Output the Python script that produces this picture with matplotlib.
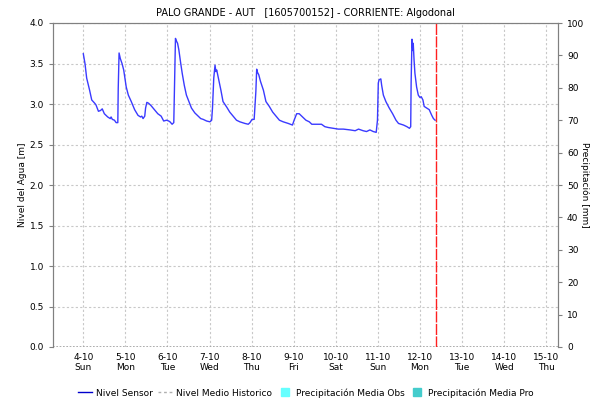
import matplotlib
matplotlib.use("Agg")
import matplotlib.pyplot as plt
from matplotlib.lines import Line2D

# Nivel Sensor: tiempo en dias (dia del mes de octubre), nivel en metros
dias = [4.00, 4.04, 4.08, 4.15, 4.20, 4.27, 4.30, 4.36, 4.41, 4.45, 4.50, 4.58,
        4.64, 4.66, 4.69, 4.74, 4.78, 4.82, 4.83, 4.85, 4.88, 4.92, 4.96, 5.02,
        5.07, 5.14, 5.22, 5.30, 5.36, 5.39, 5.42, 5.46, 5.48, 5.51, 5.55, 5.61,
        5.69, 5.77, 5.85, 5.91, 5.98, 6.03, 6.06, 6.11, 6.15, 6.17, 6.19, 6.22,
        6.24, 6.27, 6.31, 6.35, 6.40, 6.45, 6.51, 6.57, 6.65, 6.73, 6.79, 6.85,
        6.93, 7.01, 7.05, 7.07, 7.10, 7.13, 7.15, 7.17, 7.21, 7.27, 7.32, 7.41,
        7.48, 7.56, 7.64, 7.72, 7.84, 7.92, 7.96, 8.01, 8.06, 8.10, 8.12, 8.14,
        8.17, 8.21, 8.28, 8.34, 8.42, 8.50, 8.58, 8.66, 8.75, 8.87, 8.97, 9.01,
        9.07, 9.13, 9.21, 9.29, 9.37, 9.43, 9.55, 9.66, 9.74, 9.82, 9.94, 10.06,
        10.18, 10.34, 10.46, 10.54, 10.65, 10.73, 10.81, 10.89, 10.96, 10.99, 11.01, 11.03,
        11.07, 11.09, 11.13, 11.19, 11.27, 11.35, 11.43, 11.49, 11.61, 11.69, 11.75, 11.78,
        11.79, 11.81, 11.83, 11.84, 11.86, 11.88, 11.92, 11.96, 12.00, 12.03, 12.07, 12.10,
        12.16, 12.22, 12.28, 12.32, 12.36]
nivel = [3.62, 3.50, 3.32, 3.17, 3.05, 3.01, 2.99, 2.91, 2.92, 2.94, 2.88, 2.84,
         2.82, 2.84, 2.81, 2.80, 2.77, 2.77, 3.19, 3.63, 3.56, 3.50, 3.42, 3.21,
         3.11, 3.03, 2.93, 2.86, 2.84, 2.85, 2.82, 2.85, 2.95, 3.02, 3.01, 2.98,
         2.93, 2.88, 2.85, 2.79, 2.80, 2.79, 2.78, 2.75, 2.77, 3.30, 3.81, 3.77,
         3.75, 3.67, 3.52, 3.38, 3.23, 3.11, 3.03, 2.95, 2.89, 2.85, 2.82, 2.81,
         2.79, 2.78, 2.80, 2.95, 3.32, 3.48, 3.40, 3.42, 3.32, 3.17, 3.03, 2.96,
         2.90, 2.85, 2.80, 2.78, 2.76, 2.75, 2.77, 2.81, 2.81, 3.15, 3.43, 3.39,
         3.36, 3.28, 3.17, 3.03, 2.97, 2.90, 2.85, 2.80, 2.78, 2.76, 2.74, 2.80,
         2.88, 2.88, 2.84, 2.80, 2.78, 2.75, 2.75, 2.75, 2.72, 2.71, 2.70, 2.69,
         2.69, 2.68, 2.67, 2.69, 2.67, 2.66, 2.68, 2.66, 2.65, 2.80, 3.26, 3.30,
         3.31, 3.23, 3.11, 3.03, 2.95, 2.88, 2.80, 2.76, 2.74, 2.72, 2.70, 2.72,
         3.26, 3.80, 3.66, 3.75, 3.54, 3.38, 3.21, 3.11, 3.08, 3.09, 3.05, 2.97,
         2.95, 2.93, 2.86, 2.82, 2.80]

ahora = 12.39
tick_dias = [4, 5, 6, 7, 8, 9, 10, 11, 12, 13, 14, 15]
tick_nombres = ["Sun", "Mon", "Tue", "Wed", "Thu", "Fri", "Sat", "Sun", "Mon", "Tue", "Wed", "Thu"]

plt.rcParams['font.family'] = ['DejaVu Sans']
fs = 6.5

fig = plt.figure(figsize=(5.9, 4.05), dpi=100)
ax = fig.add_axes([53 / 590, 1 - 347 / 405, 505 / 590, 324 / 405])
ax2 = ax.twinx()

ax.plot(dias, nivel, color='#3a3aff', lw=1.0, zorder=3)
ax.axhline(0, color='#a0a0a0', lw=1.2, ls=(0, (1, 1)), zorder=2)
ax.axvline(ahora, color='#ff2020', lw=1.0, ls=(0, (8, 1)), zorder=4)

ax.set_xlim(3.28, 15.28)
ax.set_ylim(0, 4.0)
ax2.set_ylim(0, 100)

ax.set_yticks([0.0, 0.5, 1.0, 1.5, 2.0, 2.5, 3.0, 3.5, 4.0])
ax.set_yticklabels([f"{v:.1f}" for v in ax.get_yticks()])
ax2.set_yticks(range(0, 101, 10))
ax.set_xticks(tick_dias)
ax.set_xticklabels([f"{d}-10\n{n}" for d, n in zip(tick_dias, tick_nombres)])

ax.grid(True, color='#c8c8c8', ls=(0, (2, 2)), lw=0.8)
for a in (ax, ax2):
    for s in a.spines.values():
        s.set_color('#808080')
    a.tick_params(labelsize=fs, colors='#808080', labelcolor='black', length=3, width=0.8)
ax.tick_params(axis='x', length=0, pad=4)
ax2.spines['bottom'].set_visible(False)
ax.spines['bottom'].set_visible(False)

ax.set_ylabel("Nivel del Agua [m]", fontsize=fs, ha='center', va='center')
ax.yaxis.set_label_coords(-0.061, 0.5)
ax2.set_ylabel("Precipitación [mm]", fontsize=fs, rotation=270, ha='center', va='center')
ax2.yaxis.set_label_coords(1.052, 0.5)

fig.text(0.517, 0.968, "PALO GRANDE - AUT   [1605700152] - CORRIENTE: Algodonal",
         ha='center', va='center', fontsize=7)

handles = [
    Line2D([], [], color='#0000cc', lw=1.0),
    Line2D([], [], color='#b0b0b0', lw=1.0, ls=(0, (2, 2))),
    Line2D([], [], color='#66ffff', marker='s', ls='none', markersize=6),
    Line2D([], [], color='#44cccc', marker='s', ls='none', markersize=6),
]
labels = ["Nivel Sensor", "Nivel Medio Historico", "Precipitación Media Obs", "Precipitación Media Pro"]
fig.legend(handles, labels, loc='center', bbox_to_anchor=(0.518, 0.03), ncol=4,
           frameon=False, fontsize=fs, handlelength=1.6, handletextpad=0.4, columnspacing=0.6)

fig.savefig("out.png", dpi=100)
